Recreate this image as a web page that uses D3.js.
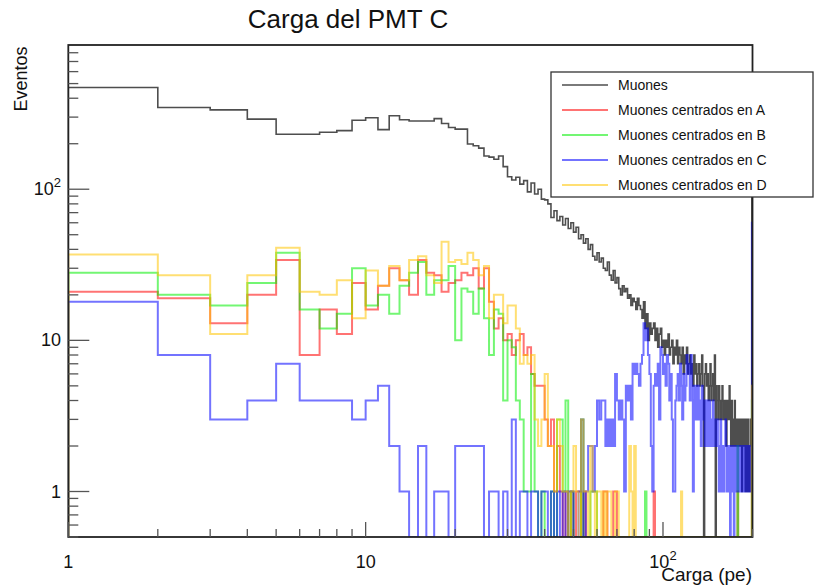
<!DOCTYPE html>
<html><head><meta charset="utf-8">
<script src="https://cdn.jsdelivr.net/npm/d3@7"></script>
<style>
body{margin:0;background:#fff;}
text{font-family:"Liberation Sans",Arial,Helvetica,sans-serif;}
</style></head>
<body><svg id="c" width="814" height="586"></svg>
<script>
// ---- data (bin i covers [i, i+1], i = 1..199) ----
const title = "Carga del PMT C";
const xTitle = "Carga (pe)";
const yTitle = "Eventos";
const seriesNames = ["Muones","Muones centrados en A","Muones centrados en B","Muones centrados en C","Muones centrados en D"];
const seriesColors = ["#222222","#ff0000","#00ee00","#0000ff","#ffc400"];
const seriesOpacity = [0.8,0.55,0.55,0.55,0.55];
const xTickLabels = [{v:1,t:"1"},{v:10,t:"10"},{v:100,t:"10",sup:"2"}];
const yTickLabels = [{v:1,t:"1"},{v:10,t:"10"},{v:100,t:"10",sup:"2"}];

const muones = [471,347,335,291,231,231,238,244,286,297,248,306,288,283,283,283,293,272,256,250,
250,199,194,187,166,163,158,166,141,121,115,120,108,114,96,110,93,100,86,85,
80,65,72,62,66,58,64,55,60,52,56,47,50,44,47,40,43,36,34,38,
33,35,30,29,33,27,25,29,24,26,22,20,23,21,22,19,20,17,19,18,
16,19,17,16,14,18,12,15,10,13,11,12,13,10,12,9,11,12,9,10,
8,10,9,11,8,9,10,7,9,8,10,7,9,8,7,9,6,8,7,9,
6,7,8,6,7,5,8,6,7,5,6,7,5,6,8,5,0,6,7,5,
6,4,5,7,4,5,6,4,8,0,5,4,3,5,4,3,4,5,3,4,
3,4,2,3,4,3,5,3,2,4,3,2,3,4,2,3,2,3,2,3,
2,3,2,1,3,2,3,2,1,3,2,1,3,2,1,2,3,2,120];

const centA = [21,19,13,20,34,8,16,11,24,16,23,30,25,20,34,28,27,21,24,25,
28,27,30,22,30,18,12,14,10,11,8,10,11,8,9,6,5,5,5,3,
2,3,1,2,1,0,1,0,1,0,1,1,0,1,0,0,0,0,0,0,
0,0,1,1,0,0,0,1,1,0,0,0,0,0,0,0,0,0,0,0,
0,0,0,0,0,0,0,0,0,0,0,0,1,0,0,0,0,0,0,0,
0,0,0,0,0,0,0,0,0,0,0,0,0,0,0,0,0,0,0,0,
0,0,0,0,0,0,0,0,0,0,0,0,0,0,0,0,0,0,0,0,
0,0,0,0,0,0,0,0,0,0,0,0,0,0,0,0,0,0,0,0,
0,0,0,0,0,0,0,0,0,0,0,0,0,0,0,0,0,1,0,0,
0,0,0,0,0,0,0,0,0,0,0,0,0,0,0,0,0,0,3];

const centB = [28,20,17,24,38,16,12,15,30,17,20,15,23,28,33,20,25,25,31,10,
22,21,15,22,14,8,16,15,4,10,9,4,3,1,1,6,1,0,1,0,
0,1,0,3,3,1,4,0,1,0,0,0,3,0,0,0,1,1,1,0,
0,0,0,0,0,0,0,0,0,0,0,0,0,0,0,0,0,0,0,0,
0,0,0,0,0,0,1,0,0,0,0,0,0,0,0,0,0,0,0,0,
0,0,0,0,0,0,0,0,0,0,0,0,0,0,0,0,0,0,0,0,
0,0,0,0,0,0,0,0,0,0,0,0,0,0,0,0,0,0,0,0,
0,0,0,0,0,0,0,0,0,0,0,0,0,0,0,0,0,0,0,0,
0,0,0,0,0,0,0,0,0,0,0,0,0,0,0,0,0,2,0,0,
0,0,0,0,0,0,0,0,0,0,0,0,0,0,0,0,0,0,4];

const centC = [18,8,3,4,7,4,4,4,3,4,5,2,1,0,2,0,1,1,0,2,
2,2,2,2,0,1,1,0,1,0,3,0,1,1,0,1,1,0,1,1,
0,1,0,1,0,1,0,1,1,0,0,1,3,0,1,2,2,1,2,4,
3,4,4,2,3,2,3,2,6,4,3,4,3,1,5,4,5,3,7,6,
7,6,5,7,8,13,10,12,8,6,2,1,5,6,5,7,3,9,8,6,
7,5,8,7,4,6,3,1,1,4,5,6,4,7,5,3,6,4,5,8,
6,7,4,8,5,1,4,5,3,4,5,3,4,2,5,3,4,2,3,4,
2,3,4,2,3,2,4,3,2,3,2,3,2,1,2,3,1,2,2,1,
2,3,2,1,2,1,2,0,2,1,2,1,0,2,1,2,1,2,1,2,
2,1,2,1,2,2,1,2,1,2,2,1,2,1,2,2,1,2,60];

const centD = [37,27,11,27,41,21,20,25,14,29,23,31,25,34,36,27,24,45,33,34,
32,38,34,27,31,14,20,20,13,17,17,12,7,8,7,8,3,2,3,6,
2,2,1,3,2,1,1,0,1,2,1,0,3,1,1,0,2,1,0,1,
1,0,1,0,1,1,0,0,1,1,0,0,0,0,0,0,2,1,0,2,
0,0,0,0,0,0,0,0,0,0,0,0,0,0,0,0,0,0,0,0,
0,0,0,0,0,0,0,0,0,0,0,0,0,0,1,0,0,0,0,0,
0,0,0,0,0,0,0,0,0,0,0,0,0,0,0,0,0,0,0,0,
0,0,0,0,0,0,0,0,0,0,0,0,0,0,0,0,0,0,0,0,
0,0,0,0,0,0,0,0,0,0,0,0,0,0,0,0,0,0,0,0,
0,0,0,0,0,0,0,0,0,0,0,0,0,0,0,0,0,0,5];

const series = [muones, centA, centB, centC, centD];
const binLow = d3.range(1, 200); // lower edges of unit-width bins

// ---- layout ----
const L = 68.3, R = 752.5, T = 45, B = 537;
const svg = d3.select("#c");
const x = d3.scaleLog().domain([1, 200]).range([L, R]);
const y = d3.scaleLog().domain([0.5, 900]).range([B, T]);

svg.append("defs").append("clipPath").attr("id","clip")
  .append("rect").attr("x",L).attr("y",T).attr("width",R-L).attr("height",B-T);

// histograms
const yv = v => v > 0 ? y(v) : B;
series.forEach((s, k) => {
  let pts = [[x(binLow[0]), B]];
  s.forEach((v, i) => {
    pts.push([x(binLow[i]), yv(v)]);
    pts.push([x(binLow[i] + 1), yv(v)]);
  });
  pts.push([x(binLow[binLow.length-1] + 1), B]);
  svg.append("path").attr("clip-path","url(#clip)")
    .attr("d", d3.line()(pts))
    .attr("fill","none")
    .attr("stroke", seriesColors[k])
    .attr("stroke-opacity", seriesOpacity[k])
    .attr("stroke-width", k === 0 ? 1.6 : 2);
});

// frame
svg.append("rect").attr("x",L).attr("y",T).attr("width",R-L).attr("height",B-T)
  .attr("fill","none").attr("stroke","#222").attr("stroke-width",1.8);

// x ticks (drawn upward from bottom)
const xMinor = [2,3,4,5,6,7,8,9,20,30,40,50,60,70,80,90,200];
const xMajor = [1,10,100];
svg.append("g").selectAll("line").data(xMinor.concat(xMajor)).join("line")
  .attr("x1", d => x(d)).attr("x2", d => x(d))
  .attr("y1", B).attr("y2", d => B - (xMajor.includes(d) ? 15 : 8))
  .attr("stroke","#555").attr("stroke-width",1.3);

// y ticks (drawn rightward from left)
const yMinor = [0.5,0.6,0.7,0.8,0.9,2,3,4,5,6,7,8,9,20,30,40,50,60,70,80,90,200,300,400,500,600,700,800];
const yMajor = [1,10,100];
svg.append("g").selectAll("line").data(yMinor.concat(yMajor)).join("line")
  .attr("x1", L).attr("x2", d => L + (yMajor.includes(d) ? 21 : 10))
  .attr("y1", d => y(d)).attr("y2", d => y(d))
  .attr("stroke","#555").attr("stroke-width",1.3);

// tick labels
xTickLabels.forEach(d => {
  const t = svg.append("text").attr("x", x(d.v)).attr("y", 568)
    .attr("text-anchor","middle").attr("font-size",18).attr("fill","#111").text(d.t);
  if (d.sup) t.append("tspan").attr("dy",-8).attr("font-size",13).text(d.sup);
});
yTickLabels.forEach(d => {
  const t = svg.append("text").attr("x", 61).attr("y", y(d.v) + 6)
    .attr("text-anchor","end").attr("font-size",18).attr("fill","#111");
  if (d.sup) {
    t.append("tspan").text(d.t);
    t.append("tspan").attr("dy",-8).attr("font-size",13).text(d.sup);
  } else t.text(d.t);
});

// titles
svg.append("text").attr("x",348).attr("y",28).attr("text-anchor","middle")
  .attr("font-size",26).attr("fill","#111").text(title);
svg.append("text").attr("transform","translate(27,79) rotate(-90)").attr("text-anchor","middle")
  .attr("font-size",18).attr("fill","#111").text(yTitle);
svg.append("text").attr("x",752).attr("y",581).attr("text-anchor","end")
  .attr("font-size",19).attr("fill","#111").text(xTitle);

// legend
const lg = svg.append("g");
lg.append("rect").attr("x",551).attr("y",72).attr("width",262).attr("height",125)
  .attr("fill","#fff").attr("stroke","#333").attr("stroke-width",1.3);
seriesNames.forEach((n, k) => {
  const yy = 85 + k * 25;
  lg.append("line").attr("x1",562).attr("x2",608).attr("y1",yy).attr("y2",yy)
    .attr("stroke",seriesColors[k]).attr("stroke-opacity",seriesOpacity[k]).attr("stroke-width",k===0?1.6:2);
  lg.append("text").attr("x",618).attr("y",yy+5).attr("font-size",14).attr("fill","#111").text(n);
});
</script></body></html>
